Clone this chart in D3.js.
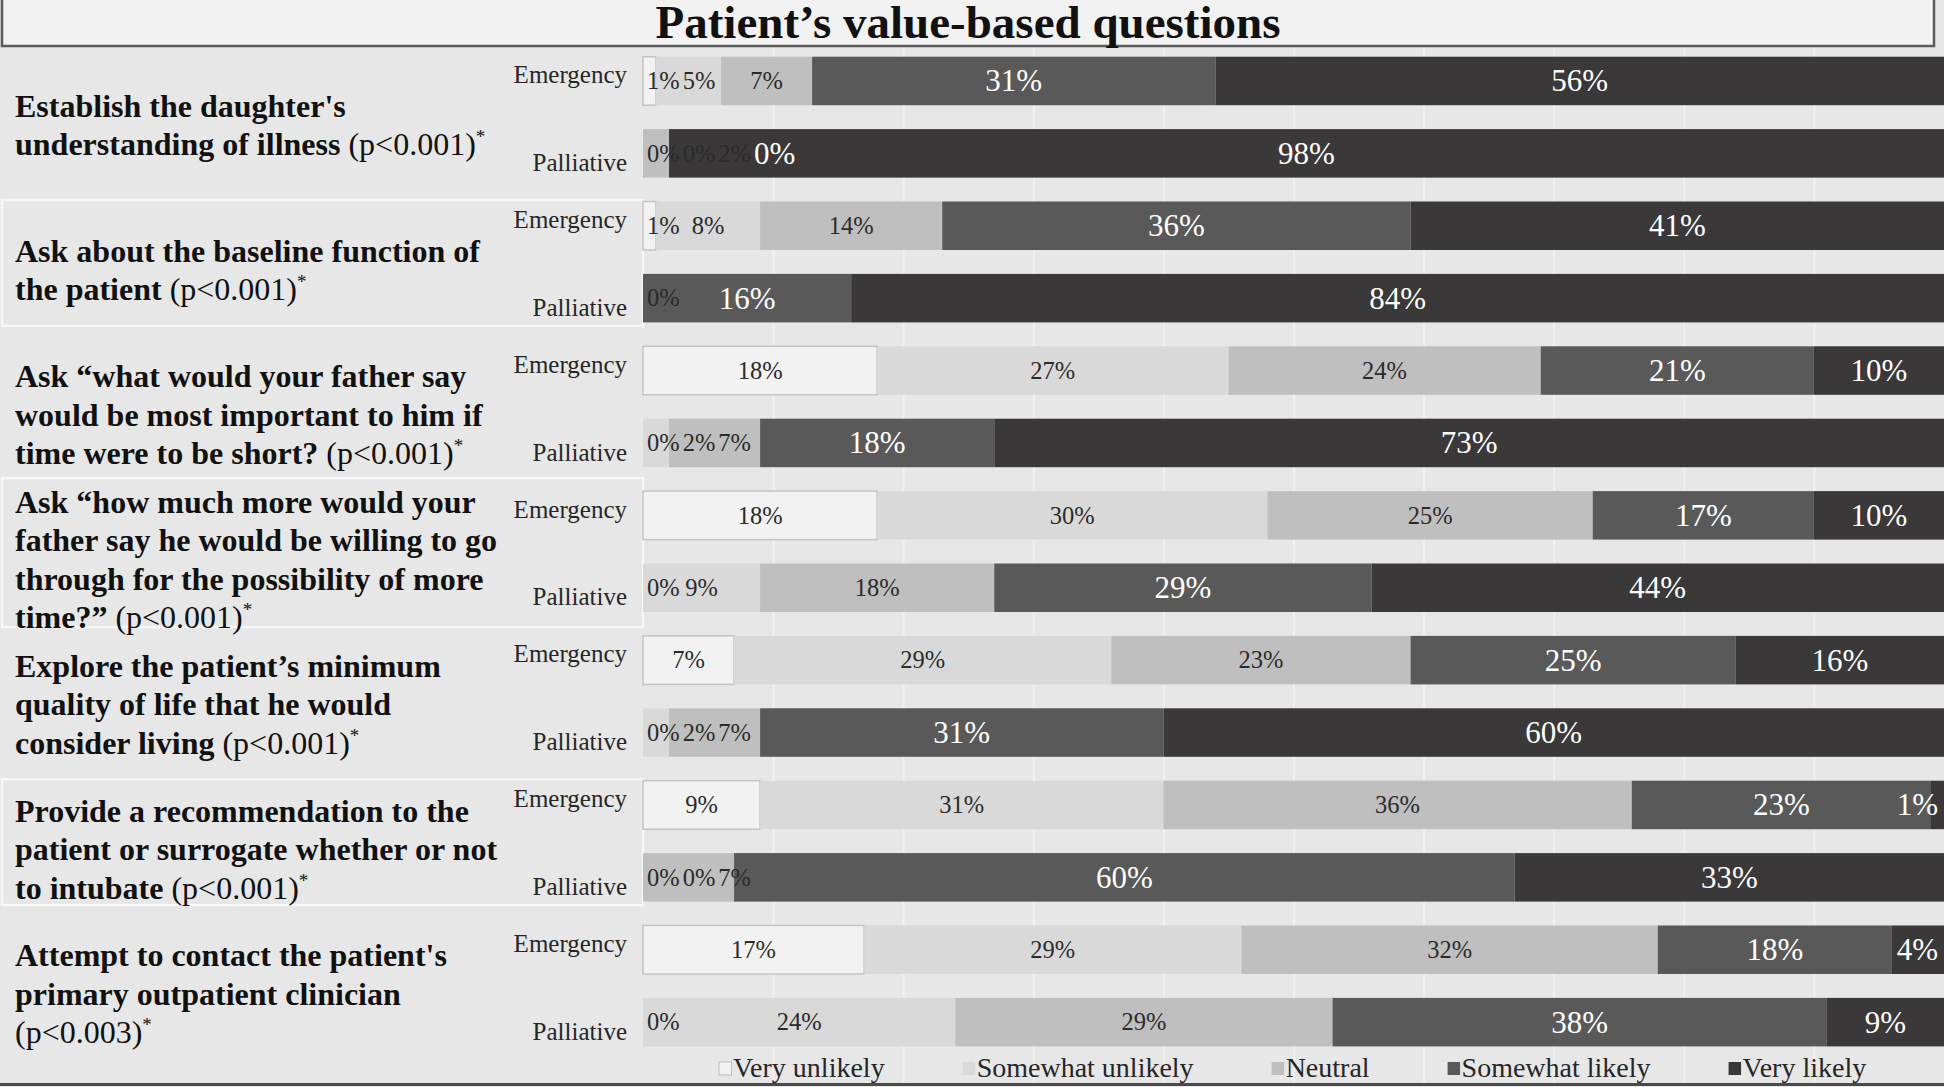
<!DOCTYPE html>
<html>
<head>
<meta charset="utf-8">
<script src="https://cdn.jsdelivr.net/npm/d3@7"></script>
<style>
  html, body { margin: 0; padding: 0; background: #e7e7e7; }
  svg { display: block; font-family: "Liberation Serif", "Times New Roman", serif; }
</style>
</head>
<body>
<svg id="chart" width="1944" height="1087"></svg>
<script>
// chart values
const title = "Patient’s value-based questions";
const categories = ["Very unlikely", "Somewhat unlikely", "Neutral", "Somewhat likely", "Very likely"];
const groups = ["Emergency", "Palliative"];
const questionLines = [
  ["Establish the daughter's", "understanding of illness"],
  ["Ask about the baseline function of", "the patient"],
  ["Ask “what would your father say", "would be most important to him if", "time were to be short?"],
  ["Ask “how much more would your", "father say he would be willing to go", "through for the possibility of more", "time?”"],
  ["Explore the patient’s minimum", "quality of life that he would", "consider living"],
  ["Provide a recommendation to the", "patient or surrogate whether or not", "to intubate"],
  ["Attempt to contact the patient's", "primary outpatient clinician", ""]
];
const pValues = ["p<0.001", "p<0.001", "p<0.001", "p<0.001", "p<0.001", "p<0.001", "p<0.003"];
const emergencyValues = [
  [1, 5, 7, 31, 56],
  [1, 8, 14, 36, 41],
  [18, 27, 24, 21, 10],
  [18, 30, 25, 17, 10],
  [7, 29, 23, 25, 16],
  [9, 31, 36, 23, 1],
  [17, 29, 32, 18, 4]
];
// null = segment with no label in the original
const palliativeValues = [
  [0, 0, 2, 0, 98],
  [0, null, null, 16, 84],
  [0, 2, 7, 18, 73],
  [0, 9, 18, 29, 44],
  [0, 2, 7, 31, 60],
  [0, 0, 7, 60, 33],
  [0, 24, 29, 38, 9]
];
const gridTicks = [10, 20, 30, 40, 50, 60, 70, 80, 90];

const colors = ["#f2f2f2", "#d9d9d9", "#bfbfbf", "#595959", "#3a3838"];
const W = 1944, H = 1087;

const svg = d3.select("#chart");

svg.append("rect").attr("width", W).attr("height", H).attr("fill", "#e7e7e7");

// rows: one per question x group
const rows = [];
questionLines.forEach((q, qi) => {
  groups.forEach((g, gi) => {
    const vals = gi === 0 ? emergencyValues[qi] : palliativeValues[qi];
    rows.push({ id: qi + "-" + gi, q: qi, g: gi, values: vals });
  });
});

const x = d3.scaleLinear().domain([0, 100]).range([643, W]);
const y = d3.scaleBand().domain(rows.map(d => d.id)).range([56.7, 1046.4]).paddingInner(0.33);
const bw = y.bandwidth();

// gridlines
const grid = svg.append("g")
  .attr("transform", `translate(0,48)`)
  .call(d3.axisBottom(x).tickValues(gridTicks).tickSize(1036).tickFormat(""));
grid.select(".domain").remove();
grid.selectAll("line").attr("stroke", "#f0f0f0").attr("stroke-width", 2);

// title box
svg.append("rect")
  .attr("x", 2).attr("y", -3).attr("width", 1932).attr("height", 49)
  .attr("fill", "#f2f2f2").attr("stroke", "#5a5a5a").attr("stroke-width", 2.5);
svg.append("text")
  .attr("x", 968).attr("y", 38)
  .attr("text-anchor", "middle")
  .attr("font-size", 47).attr("font-weight", "bold").attr("fill", "#111")
  .text(title);

// question labels on the left
const lineH = 38.5;
questionLines.forEach((lines, qi) => {
  const top = y(qi + "-0"), bottom = y(qi + "-1") + bw;
  const mid = (top + bottom) / 2;
  if (qi % 2 === 1) {
    const boxH = Math.max(bottom - top + 5, lines.length * lineH - 5);
    svg.append("rect")
      .attr("x", 2).attr("y", mid + 1 - boxH / 2)
      .attr("width", 641).attr("height", boxH)
      .attr("fill", "none").attr("stroke", "#f7f7f7").attr("stroke-width", 2.5);
  }
  lines.forEach((line, li) => {
    const base = mid + (li - (lines.length - 1) / 2) * lineH + 19;
    const t = svg.append("text")
      .attr("x", 15).attr("y", base)
      .attr("font-size", 32).attr("fill", "#111");
    t.append("tspan").attr("font-weight", "bold").text(line);
    if (li === lines.length - 1) {
      t.append("tspan").text((line ? " " : "") + "(" + pValues[qi] + ")");
      t.append("tspan").attr("font-size", 19).attr("dy", -12).text("*");
    }
  });
});

// group labels
svg.append("g").selectAll("text")
  .data(rows)
  .join("text")
  .attr("x", 627)
  .attr("y", d => d.g === 0 ? y(d.id) + 26.6 : y(d.id) + bw - 6.7)
  .attr("text-anchor", "end")
  .attr("font-size", 25)
  .attr("fill", "#262626")
  .text(d => groups[d.g]);

// stacked segments
const stack = d3.stack()
  .keys(d3.range(categories.length))
  .value((d, k) => d.values[k] || 0);
const series = stack(rows);

const bars = svg.append("g");
series.forEach((s, k) => {
  bars.append("g")
    .selectAll("rect")
    .data(s.filter(d => d[1] > d[0]))
    .join("rect")
    .attr("x", d => x(d[0]))
    .attr("y", d => y(d.data.id))
    .attr("width", d => x(d[1]) - x(d[0]))
    .attr("height", bw)
    .attr("fill", colors[k])
    .attr("stroke", k === 0 ? "#c4c4c4" : "none")
    .attr("stroke-width", k === 0 ? 1.5 : 0);
});

// value labels, pushed right when tiny segments crowd together
const labelG = svg.append("g");
rows.forEach((r, ri) => {
  const placed = [];
  categories.forEach((c, k) => {
    const v = r.values[k];
    if (v === null || v === undefined) return;
    const s = series[k][ri];
    const dark = k >= 3;
    const fs = dark ? 31 : 24.5;
    const t = labelG.append("text")
      .attr("text-anchor", "middle")
      .attr("font-size", fs)
      .attr("fill", dark ? "#ffffff" : "#2b2b2b")
      .attr("y", y(r.id) + bw / 2 + fs * 0.34)
      .text(v + "%");
    placed.push({ t, cx: x((s[0] + s[1]) / 2), w: t.node().getComputedTextLength() });
  });
  let prev = null;
  placed.forEach(p => {
    let px = Math.max(p.cx, x(0) + p.w / 2 + 4);
    if (prev) px = Math.max(px, prev.x + (prev.w + p.w) / 2 + 3);
    px = Math.min(px, W - p.w / 2 - 6);
    p.x = px;
    p.t.attr("x", px);
    prev = p;
  });
});

// legend
const legend = svg.append("g");
let lx = 719;
categories.forEach((c, k) => {
  legend.append("rect")
    .attr("x", lx).attr("y", 1062).attr("width", 12.5).attr("height", 13)
    .attr("fill", colors[k])
    .attr("stroke", k === 0 ? "#bdbdbd" : "none");
  const t = legend.append("text")
    .attr("x", lx + 14).attr("y", 1077)
    .attr("font-size", 28).attr("fill", "#262626")
    .text(c);
  lx += 14 + t.node().getComputedTextLength() + 78;
});

// bottom frame line
svg.append("line")
  .attr("x1", 0).attr("x2", W).attr("y1", 1084.5).attr("y2", 1084.5)
  .attr("stroke", "#4a4a4a").attr("stroke-width", 3);
</script>
</body>
</html>
